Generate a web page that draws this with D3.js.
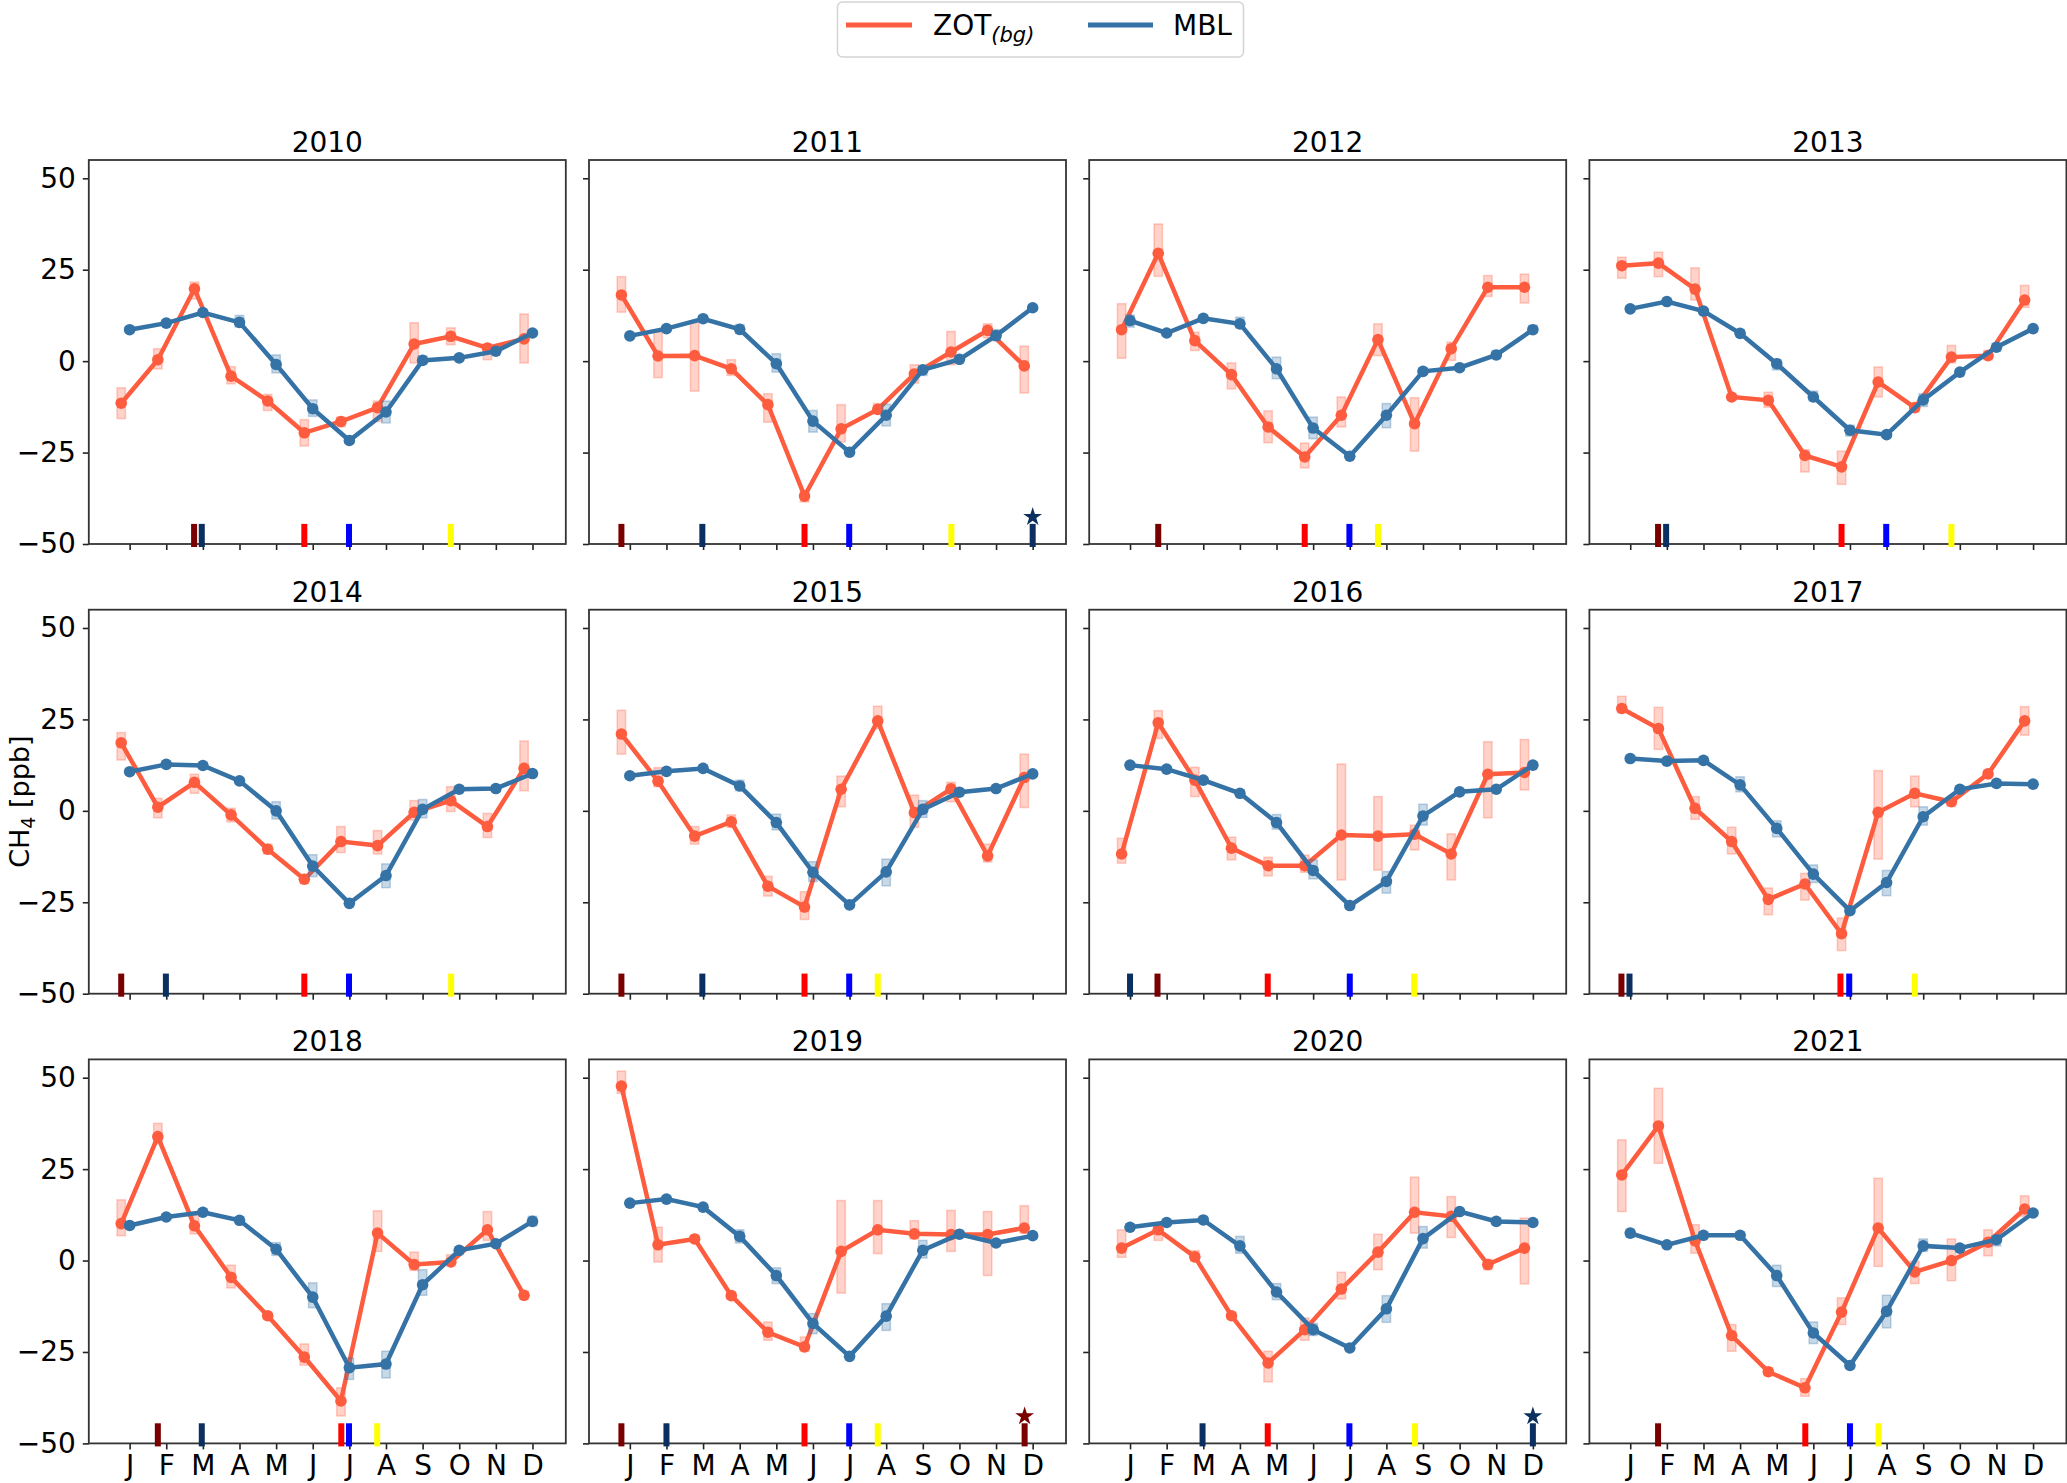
<!DOCTYPE html>
<html>
<head>
<meta charset="utf-8">
<script src="https://cdn.jsdelivr.net/npm/d3@7"></script>
<style>
  body { margin: 0; background: #fff; }
  svg { font-family: "DejaVu Sans", sans-serif; }
</style>
</head>
<body>
<div id="chart"></div>
<script>
// 1. DATA (ppb)
const years = [2010, 2011, 2012, 2013, 2014, 2015, 2016, 2017, 2018, 2019, 2020, 2021];
const monthLabels = ['J', 'F', 'M', 'A', 'M', 'J', 'J', 'A', 'S', 'O', 'N', 'D'];
const months = [1, 2, 3, 4, 5, 6, 7, 8, 9, 10, 11, 12];
const yTicks = [-50, -25, 0, 25, 50];

// ZOT(bg) monthly means and uncertainty box edges, one row per year
const zotMean = [
  [-11.5, 0.4, 19.8, -4.1, -10.9, -19.6, -16.5, -12.7, 4.7, 6.8, 3.6, 6.1],
  [18.1, 1.4, 1.5, -2.1, -11.9, -36.9, -18.5, -13.2, -3.5, 2.5, 8.4, -1.3],
  [8.6, 29.5, 5.6, -3.7, -18.0, -26.2, -14.8, 5.9, -17.1, 3.4, 20.2, 20.2],
  [26.1, 26.8, 19.7, -9.8, -10.7, -25.8, -28.9, -5.7, -12.7, 1.1, 1.5, 16.7],
  [18.6, 1.0, 7.8, -1.1, -10.5, -18.7, -8.4, -9.5, -0.4, 2.8, -4.3, 11.6],
  [21.0, 8.1, -6.9, -3.0, -20.6, -26.3, 5.9, 24.6, -0.5, 6.0, -12.3, 9.1],
  [-11.8, 24.1, 8.4, -10.2, -15.0, -15.0, -6.6, -6.9, -6.4, -11.8, 10.0, 10.5],
  [28.0, 22.5, 0.7, -8.4, -24.2, -20.0, -33.6, -0.4, 4.8, 2.5, 10.1, 24.6],
  [10.1, 33.9, 9.5, -4.6, -15.1, -26.4, -38.4, 7.5, -1.1, -0.4, 8.4, -9.5],
  [47.7, 4.3, 5.9, -9.6, -19.6, -23.6, 2.5, 8.4, 7.3, 7.1, 7.1, 8.9],
  [3.4, 8.4, 1.0, -15.1, -28.0, -18.9, -7.8, 2.3, 13.2, 12.1, -1.1, 3.4],
  [23.4, 36.8, 5.4, -20.5, -30.4, -34.8, -14.1, 8.9, -3.1, 0.0, 5.0, 14.1]
];
const zotLow = [
  [-15.7, -2.1, 17.0, -6.2, -13.5, -23.2, -18.0, -16.5, -0.5, 4.5, 0.4, -0.5],
  [13.4, -4.5, -8.2, -3.9, -16.7, -38.5, -22.1, -14.4, -6.0, -1.0, 6.4, -8.7],
  [0.8, 23.2, 2.9, -7.6, -22.3, -29.2, -18.0, 1.5, -24.6, 0.2, 17.7, 15.9],
  [22.7, 23.1, 16.7, -10.7, -12.6, -30.3, -33.7, -9.8, -13.9, -0.5, 0.4, 14.7],
  [13.9, -1.9, 4.8, -3.0, -11.8, -19.9, -11.4, -11.8, -2.5, -0.2, -7.3, 5.5],
  [15.5, 6.6, -9.1, -4.5, -23.3, -29.7, 1.1, 22.5, -4.5, 2.5, -14.0, 0.9],
  [-14.3, 19.8, 3.9, -13.4, -17.8, -16.8, -18.9, -16.2, -10.7, -18.9, -1.9, 5.7],
  [26.8, 16.8, -2.3, -11.8, -28.4, -24.4, -38.2, -13.2, 1.1, 1.2, 9.0, 20.7],
  [6.8, 31.9, 7.3, -7.5, -16.1, -28.6, -42.5, 2.5, -2.7, -1.4, 5.5, -10.5],
  [45.7, -0.4, 4.9, -10.6, -21.8, -24.8, -8.9, 1.9, 5.9, 2.5, -4.1, 7.5],
  [0.9, 5.5, -0.2, -16.1, -33.2, -21.8, -10.5, -2.5, 7.5, 6.3, -2.5, -6.4],
  [13.4, 26.6, 2.0, -24.8, -31.5, -37.1, -17.5, -1.6, -6.3, -5.5, 1.3, 12.1]
];
const zotHigh = [
  [-7.3, 3.4, 21.6, -1.5, -9.1, -16.0, -15.3, -10.9, 10.5, 9.1, 4.7, 12.9],
  [23.1, 7.9, 10.6, 0.4, -8.9, -35.3, -11.9, -11.6, -1.0, 8.1, 10.2, 4.1],
  [15.7, 37.5, 7.9, -0.5, -13.6, -22.4, -9.8, 10.2, -10.0, 5.2, 23.4, 23.8],
  [28.4, 29.8, 25.5, -8.9, -8.5, -24.2, -24.6, -1.6, -11.6, 4.3, 2.9, 20.7],
  [21.4, 3.4, 10.0, 0.7, -9.1, -17.4, -4.3, -5.4, 2.8, 6.6, -0.7, 19.1],
  [27.5, 11.8, -4.3, -1.1, -17.9, -22.1, 9.5, 28.6, 4.3, 7.8, -9.1, 15.5],
  [-7.5, 27.4, 11.9, -7.2, -12.7, -12.1, 12.8, 3.9, -3.9, -6.3, 18.9, 19.5],
  [31.3, 28.3, 3.9, -4.5, -21.1, -17.1, -29.3, 11.0, 9.5, 3.9, 11.2, 28.5],
  [16.6, 37.5, 12.5, -1.3, -14.1, -22.8, -34.8, 13.6, 2.3, 1.6, 13.4, -8.5],
  [51.8, 9.1, 6.9, -8.6, -16.8, -20.9, 16.4, 16.4, 10.9, 13.7, 13.4, 15.0],
  [8.4, 9.8, 2.7, -14.1, -24.8, -15.7, -3.2, 7.2, 22.8, 17.5, 0.3, 11.6],
  [33.0, 47.1, 9.8, -17.5, -29.3, -32.3, -10.2, 22.5, -0.2, 5.9, 8.4, 17.7]
];

// MBL monthly means and uncertainty box edges
const mblMean = [
  [8.6, 10.4, 13.3, 10.6, -0.9, -13.0, -21.7, -13.9, 0.2, 0.9, 2.7, 7.7],
  [6.9, 8.9, 11.6, 8.7, -0.7, -16.4, -24.9, -14.8, -2.4, 0.5, 7.0, 14.6],
  [11.1, 7.7, 11.7, 10.2, -2.1, -18.3, -26.0, -14.8, -2.8, -1.8, 1.7, 8.6],
  [14.3, 16.3, 13.7, 7.6, -0.7, -9.8, -18.9, -20.1, -10.6, -3.0, 3.8, 8.9],
  [10.7, 12.7, 12.4, 8.2, 0.0, -15.1, -25.3, -17.7, 0.4, 5.9, 6.1, 10.2],
  [9.6, 10.8, 11.6, 6.8, -3.2, -16.8, -25.7, -16.7, 0.4, 5.1, 6.1, 10.1],
  [12.5, 11.4, 8.4, 4.8, -3.2, -16.3, -25.9, -19.3, -1.4, 5.2, 5.9, 12.5],
  [14.3, 13.6, 13.8, 7.1, -4.8, -17.3, -27.3, -19.6, -1.6, 5.9, 7.5, 7.3],
  [9.6, 11.9, 13.2, 11.0, 3.1, -10.0, -29.3, -28.3, -6.6, 2.8, 4.6, 10.7],
  [15.7, 16.8, 14.6, 6.6, -4.1, -17.2, -26.2, -15.2, 2.8, 7.2, 4.8, 6.8],
  [9.1, 10.4, 11.1, 4.0, -8.6, -18.9, -23.9, -13.2, 6.0, 13.4, 10.7, 10.4],
  [7.5, 4.3, 6.9, 6.9, -4.1, -19.8, -28.7, -13.9, 4.0, 3.4, 5.7, 13.0]
];
const mblLow = [
  [7.8, 9.6, 12.5, 9.3, -3.2, -15.1, -22.5, -16.9, -0.7, 0.1, 1.9, 6.9],
  [6.1, 8.1, 10.8, 7.6, -3.0, -19.4, -25.7, -17.7, -3.9, -0.3, 5.6, 13.8],
  [9.3, 6.9, 10.9, 9.1, -4.8, -21.2, -26.8, -18.2, -3.6, -2.6, 0.6, 7.7],
  [13.5, 15.5, 12.9, 6.8, -2.4, -10.9, -20.5, -20.9, -12.4, -3.8, 2.7, 8.1],
  [9.9, 11.9, 11.6, 7.4, -2.2, -18.0, -26.1, -21.0, -1.9, 5.1, 5.3, 9.4],
  [8.8, 10.0, 10.8, 5.5, -5.2, -19.3, -26.5, -20.5, -1.8, 4.3, 5.3, 9.3],
  [11.7, 10.6, 7.6, 4.0, -5.0, -18.6, -26.7, -22.5, -3.9, 4.4, 5.1, 11.7],
  [13.5, 12.8, 13.0, 5.2, -7.1, -19.6, -28.1, -23.2, -3.9, 5.1, 6.7, 6.5],
  [8.8, 11.1, 12.4, 10.2, 1.4, -12.9, -32.5, -32.1, -9.5, 2.0, 3.8, 9.5],
  [14.9, 16.0, 13.8, 4.8, -6.3, -20.0, -27.0, -19.1, 0.7, 6.4, 4.0, 6.0],
  [8.3, 9.6, 10.3, 2.0, -10.7, -20.5, -24.7, -16.9, 3.4, 12.6, 9.9, 9.6],
  [6.4, 3.5, 6.1, 6.1, -7.1, -22.7, -29.5, -18.4, 2.5, 2.6, 4.0, 12.2]
];
const mblHigh = [
  [9.4, 11.2, 14.1, 12.5, 1.7, -10.6, -20.9, -10.9, 1.5, 1.7, 3.5, 8.5],
  [7.7, 9.7, 12.4, 10.0, 2.0, -13.5, -24.1, -11.8, -1.2, 1.3, 8.6, 15.4],
  [12.6, 8.5, 12.5, 12.0, 1.1, -15.3, -25.2, -11.6, -2.0, -1.0, 2.9, 9.8],
  [15.1, 17.1, 14.5, 8.4, 0.4, -8.2, -17.5, -19.3, -8.9, -2.2, 4.9, 9.7],
  [11.5, 13.5, 13.2, 9.0, 2.5, -12.0, -24.5, -14.5, 3.1, 6.7, 6.9, 11.0],
  [10.4, 11.6, 12.4, 8.4, -0.9, -13.9, -24.9, -13.2, 2.8, 5.9, 6.9, 10.9],
  [13.3, 12.2, 9.2, 5.6, -1.0, -13.4, -25.1, -16.6, 1.8, 6.0, 6.7, 13.3],
  [15.1, 14.4, 14.6, 9.3, -2.7, -14.8, -26.5, -16.3, 1.1, 6.7, 8.3, 8.1],
  [10.4, 12.7, 14.0, 11.8, 4.9, -6.1, -26.6, -24.8, -2.5, 3.6, 5.4, 12.1],
  [16.5, 17.6, 15.4, 8.4, -2.0, -14.5, -25.4, -11.8, 5.5, 8.0, 5.6, 7.6],
  [9.9, 11.2, 11.9, 6.6, -6.3, -17.2, -23.1, -9.6, 9.3, 14.2, 11.5, 11.2],
  [8.6, 5.1, 7.7, 7.7, -1.3, -16.8, -27.9, -9.5, 5.9, 4.2, 6.8, 13.8]
];

// event markers at the bottom of each panel: [kind, month position, star]
const events = [
  [['darkred', 2.76], ['navy', 2.97], ['red', 5.77], ['blue', 6.99], ['yellow', 9.77]],
  [['darkred', 0.77], ['navy', 2.98], ['red', 5.77], ['blue', 6.99], ['yellow', 9.78], ['navy', 12.0, true]],
  [['darkred', 1.77], ['red', 5.77], ['blue', 6.99], ['yellow', 7.77]],
  [['darkred', 1.76], ['navy', 1.98], ['red', 6.77], ['blue', 7.99], ['yellow', 9.77]],
  [['darkred', 0.77], ['navy', 1.99], ['red', 5.77], ['blue', 6.99], ['yellow', 9.78]],
  [['darkred', 0.77], ['navy', 2.98], ['red', 5.77], ['blue', 6.99], ['yellow', 7.77]],
  [['navy', 1.0], ['darkred', 1.75], ['red', 4.76], ['blue', 7.0], ['yellow', 8.76]],
  [['darkred', 0.76], ['navy', 0.98], ['red', 6.74], ['blue', 6.98], ['yellow', 8.77]],
  [['darkred', 1.77], ['navy', 2.97], ['red', 6.78], ['blue', 6.99], ['yellow', 7.76]],
  [['darkred', 0.77], ['navy', 2.0], ['red', 5.77], ['blue', 6.99], ['yellow', 7.77], ['darkred', 11.78, true]],
  [['navy', 2.98], ['red', 4.76], ['blue', 6.99], ['yellow', 8.78], ['navy', 12.0, true]],
  [['darkred', 1.76], ['red', 5.78], ['blue', 7.0], ['yellow', 7.78]]
];

const eventColors = {
  darkred: '#7a0000',
  navy: '#0b2f5e',
  red: '#ff0000',
  blue: '#0000ff',
  yellow: '#ffff00'
};

const ZOT_COLOR = '#fe5c3f';
const MBL_COLOR = '#3572a6';
const ZOT_SHIFT = -0.23; // ZOT points sit a week before the MBL ones

// 2. LAYOUT
const W = 2067, H = 1483;
const panelW = 477, panelH = 384;
const left0 = 88.8, top0 = 160;
const colStep = 500.2, rowStep = 449.7;

const svg = d3.select('#chart')
  .append('svg')
  .attr('width', W)
  .attr('height', H);

const x = d3.scaleLinear().domain([-0.115, 12.91]).range([0, panelW]);
const y = d3.scaleLinear().domain([-50, 55]).range([panelH, 0]);

const minus = d => d < 0 ? '\u2212' + Math.abs(d) : String(d);

// clip for the data area
svg.append('defs').append('clipPath')
  .attr('id', 'plot-clip')
  .append('rect')
  .attr('width', panelW)
  .attr('height', panelH);

// 3. PANELS
years.forEach((year, i) => {
  const col = i % 4;
  const row = Math.floor(i / 4);

  const g = svg.append('g')
    .attr('transform', `translate(${left0 + col * colStep}, ${top0 + row * rowStep})`);

  // title
  g.append('text')
    .attr('x', panelW / 2)
    .attr('y', -8)
    .attr('text-anchor', 'middle')
    .style('font-size', '28px')
    .text(year);

  const plot = g.append('g').attr('clip-path', 'url(#plot-clip)');

  const zot = months.map((m, k) => ({ m: m + ZOT_SHIFT, v: zotMean[i][k], lo: zotLow[i][k], hi: zotHigh[i][k] }));
  const mbl = months.map((m, k) => ({ m, v: mblMean[i][k], lo: mblLow[i][k], hi: mblHigh[i][k] }));

  const line = d3.line().x(d => x(d.m)).y(d => y(d.v));

  // ZOT boxes + line
  plot.selectAll('rect.zot-box')
    .data(zot)
    .join('rect')
    .attr('class', 'zot-box')
    .attr('x', d => x(d.m) - 4.2)
    .attr('width', 8.4)
    .attr('y', d => y(d.hi))
    .attr('height', d => y(d.lo) - y(d.hi))
    .attr('fill', ZOT_COLOR)
    .attr('fill-opacity', 0.28)
    .attr('stroke', ZOT_COLOR)
    .attr('stroke-opacity', 0.3)
    .attr('stroke-width', 1.5);

  plot.append('path')
    .datum(zot)
    .attr('d', line)
    .attr('fill', 'none')
    .attr('stroke', ZOT_COLOR)
    .attr('stroke-width', 4.5);

  plot.selectAll('circle.zot')
    .data(zot)
    .join('circle')
    .attr('class', 'zot')
    .attr('cx', d => x(d.m))
    .attr('cy', d => y(d.v))
    .attr('r', 5.8)
    .attr('fill', ZOT_COLOR);

  // MBL boxes + line
  plot.selectAll('rect.mbl-box')
    .data(mbl)
    .join('rect')
    .attr('class', 'mbl-box')
    .attr('x', d => x(d.m) - 4.2)
    .attr('width', 8.4)
    .attr('y', d => y(d.hi))
    .attr('height', d => y(d.lo) - y(d.hi))
    .attr('fill', MBL_COLOR)
    .attr('fill-opacity', 0.28)
    .attr('stroke', MBL_COLOR)
    .attr('stroke-opacity', 0.3)
    .attr('stroke-width', 1.5);

  plot.append('path')
    .datum(mbl)
    .attr('d', line)
    .attr('fill', 'none')
    .attr('stroke', MBL_COLOR)
    .attr('stroke-width', 4.5);

  plot.selectAll('circle.mbl')
    .data(mbl)
    .join('circle')
    .attr('class', 'mbl')
    .attr('cx', d => x(d.m))
    .attr('cy', d => y(d.v))
    .attr('r', 5.8)
    .attr('fill', MBL_COLOR);

  // axes
  const yAxis = d3.axisLeft(y)
    .tickValues(yTicks)
    .tickSize(6)
    .tickPadding(7)
    .tickFormat(col === 0 ? minus : '');

  const xAxis = d3.axisBottom(x)
    .tickValues(months)
    .tickSize(6)
    .tickPadding(6)
    .tickFormat(row === 2 ? (d => monthLabels[d - 1]) : '');

  const ya = g.append('g').call(yAxis);
  const xa = g.append('g').attr('transform', `translate(0, ${panelH})`).call(xAxis);

  [ya, xa].forEach(a => {
    a.select('.domain').remove();
    a.selectAll('.tick line').attr('stroke', '#222').attr('stroke-width', 1.6);
    a.selectAll('.tick text')
      .attr('fill', '#000')
      .style('font-size', '28px')
      .style('font-family', '"DejaVu Sans", sans-serif');
  });

  // frame
  g.append('rect')
    .attr('width', panelW)
    .attr('height', panelH)
    .attr('fill', 'none')
    .attr('stroke', '#333')
    .attr('stroke-width', 1.8);

  // event markers
  const ev = events[i].map(e => ({ kind: e[0], m: e[1], star: !!e[2] }));

  g.selectAll('rect.event')
    .data(ev)
    .join('rect')
    .attr('class', 'event')
    .attr('x', d => x(d.m) - 3)
    .attr('width', 6)
    .attr('y', y(-44.5))
    .attr('height', y(-50) - y(-44.5) + 3)
    .attr('fill', d => eventColors[d.kind]);

  g.selectAll('path.star')
    .data(ev.filter(d => d.star))
    .join('path')
    .attr('class', 'star')
    .attr('transform', d => `translate(${x(d.m)}, ${y(-42.6)})`)
    .attr('d', d3.symbol().type(d3.symbolStar).size(110))
    .attr('fill', d => eventColors[d.kind]);
});

// 4. Y LABEL
const yl = svg.append('text')
  .attr('transform', `translate(29, ${top0 + rowStep + panelH / 2}) rotate(-90)`)
  .attr('text-anchor', 'middle')
  .style('font-size', '27px');
yl.append('tspan').text('CH');
yl.append('tspan').attr('dy', 6).style('font-size', '19px').text('4');
yl.append('tspan').attr('dy', -6).text(' [ppb]');

// 5. LEGEND
const legend = svg.append('g');
legend.append('rect')
  .attr('x', 837.5)
  .attr('y', 2)
  .attr('width', 406)
  .attr('height', 55)
  .attr('rx', 5)
  .attr('fill', '#fff')
  .attr('stroke', '#d4d4d4')
  .attr('stroke-width', 1.5);

const legendItems = [
  { color: ZOT_COLOR, x1: 846, x2: 912, tx: 933, label: 'ZOT', sub: '(bg)' },
  { color: MBL_COLOR, x1: 1088, x2: 1153, tx: 1173, label: 'MBL', sub: null }
];

legendItems.forEach(it => {
  legend.append('line')
    .attr('x1', it.x1).attr('x2', it.x2)
    .attr('y1', 25).attr('y2', 25)
    .attr('stroke', it.color)
    .attr('stroke-width', 5);
  const t = legend.append('text')
    .attr('x', it.tx)
    .attr('y', 35)
    .style('font-size', '28px');
  t.append('tspan').text(it.label);
  if (it.sub) {
    t.append('tspan')
      .attr('dy', 7)
      .style('font-size', '21px')
      .style('font-style', 'italic')
      .text(it.sub);
  }
});
</script>
</body>
</html>
